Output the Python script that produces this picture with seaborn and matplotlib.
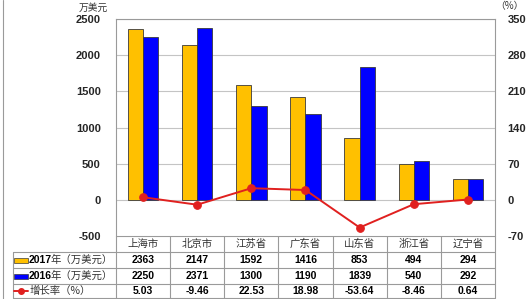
import numpy as np
import pandas as pd
import matplotlib
matplotlib.use("Agg")
import matplotlib.pyplot as plt
import seaborn as sns
from matplotlib.patches import Rectangle

# ---- data ----
categories = ["上海市", "北京市", "江苏省", "广东省", "山东省", "浙江省", "辽宁省"]
values_2017 = [2363, 2147, 1592, 1416, 853, 494, 294]
values_2016 = [2250, 2371, 1300, 1190, 1839, 540, 292]
growth = [5.03, -9.46, 22.53, 18.98, -53.64, -8.46, 0.64]
series_names = ["2017年（万美元）", "2016年（万美元）", "增长率（%）"]
left_ticks = [-500, 0, 500, 1000, 1500, 2000, 2500]
right_ticks = [-70, 0, 70, 140, 210, 280, 350]

YELLOW = "#FFC000"
BLUE = "#0000FF"
RED = "#E0201F"
GRID = "#c4c4c4"
FRAME = "#9a9a9a"

sns.set_style("white")
plt.rcParams["font.family"] = ["Liberation Sans", "Noto Sans CJK SC", "DejaVu Sans"]

W, H = 530, 299
fig = plt.figure(figsize=(W / 100, H / 100), dpi=100)
fig.patch.set_facecolor("white")

L, R, T, B = 116, 495, 19, 236
ax = fig.add_axes([L / W, (H - B) / H, (R - L) / W, (B - T) / H])

df = pd.DataFrame({
    "cat": categories * 2,
    "series": [series_names[0]] * len(categories) + [series_names[1]] * len(categories),
    "value": values_2017 + values_2016,
})
sns.barplot(data=df, x="cat", y="value", hue="series", palette=[YELLOW, BLUE],
            width=0.56, saturation=1, edgecolor="#3a3a3a", linewidth=0.6,
            legend=False, ax=ax, zorder=3)
ax.set_xlim(-0.5, len(categories) - 0.5)
ax.set_ylim(left_ticks[0], left_ticks[-1])
ax.set_yticks(left_ticks)
ax.set_yticklabels([str(v) for v in left_ticks])
ax.set_xticks([])
ax.set_xlabel("")
ax.set_ylabel("")
ax.yaxis.grid(True, color=GRID, lw=0.8)
ax.set_axisbelow(True)
ax.tick_params(axis="y", length=0, pad=11, labelsize=8)
for lab in ax.get_yticklabels():
    lab.set_fontweight("bold")
    lab.set_family("Liberation Sans")
for s in ["left", "top", "right"]:
    ax.spines[s].set_color(FRAME)
    ax.spines[s].set_linewidth(0.8)
ax.spines["bottom"].set_visible(False)

ax2 = ax.twinx()
gdf = pd.DataFrame({"x": np.arange(len(categories)), "g": growth})
sns.lineplot(data=gdf, x="x", y="g", ax=ax2, color=RED, lw=1.4, marker="o",
             markersize=5.5, markeredgecolor=RED, markerfacecolor=RED, zorder=5)
ax2.set_xlim(-0.5, len(categories) - 0.5)
ax2.set_ylim(right_ticks[0], right_ticks[-1])
ax2.set_yticks(right_ticks)
ax2.set_yticklabels([str(v) for v in right_ticks])
ax2.set_xlabel("")
ax2.set_ylabel("")
ax2.tick_params(axis="y", length=0, pad=9, labelsize=8)
for lab in ax2.get_yticklabels():
    lab.set_fontweight("bold")
    lab.set_family("Liberation Sans")
for s in ax2.spines.values():
    s.set_visible(False)

# ---- overlay for table and labels (pixel coords) ----
ov = fig.add_axes([0, 0, 1, 1], zorder=-1)
ov.set_xlim(0, W)
ov.set_ylim(H, 0)
ov.axis("off")

fig.canvas.draw()
def col_x(i):
    return ax.transData.transform((i, 0))[0]

ncol = len(categories)
edges = [col_x(i - 0.5) for i in range(ncol + 1)]
centers = [col_x(i) for i in range(ncol)]

rows_y = [252, 268, 284, 298]
lk = dict(color=FRAME, lw=0.8)
ov.plot([L, R], [B, B], **lk)
for y in rows_y:
    ov.plot([13, R], [y, y], **lk)
ov.plot([13, 13], [rows_y[0], rows_y[-1]], **lk)
for x in edges:
    ov.plot([x, x], [B, rows_y[-1]], **lk)

# outer left border
ov.plot([3, 3], [0, H], color=FRAME, lw=0.8)

cjk = ["Noto Sans CJK SC", "DejaVu Sans"]
num_font = ["Liberation Sans", "DejaVu Sans"]
for cx, c in zip(centers, categories):
    ov.text(cx, (B + rows_y[0]) / 2, c, ha="center", va="center",
            family=cjk, fontsize=7.5, color="#333333")

row_centers = [(rows_y[i] + rows_y[i + 1]) / 2 for i in range(3)]
row_vals = [values_2017, values_2016, [f"{g:.2f}" for g in growth]]
for yc, vals in zip(row_centers, row_vals):
    for cx, v in zip(centers, vals):
        ov.text(cx, yc, str(v), ha="center", va="center", family=num_font,
                fontweight="bold", fontsize=7.5, color="black")

# legend keys
for yc, col in zip(row_centers[:2], [YELLOW, BLUE]):
    ov.add_patch(Rectangle((14, yc - 2.5), 14, 5, facecolor=col,
                           edgecolor="#3a3a3a", lw=0.5))
ov.plot([14, 28], [row_centers[2], row_centers[2]], color=RED, lw=1.4)
ov.plot([21], [row_centers[2]], marker="o", color=RED, markersize=4)

# row labels
for yc, name in zip(row_centers[:2], series_names[:2]):
    t = ov.text(29, yc, name[:4], ha="left", va="center", family=num_font,
                fontweight="bold", fontsize=7.5, color="black")
    ov.annotate(name[4:], xy=(1, 0.5), xycoords=t, xytext=(-1.2, 0),
                textcoords="offset points", ha="left", va="center",
                family=cjk, fontsize=7.5, color="#333333")
ov.text(30, row_centers[2], series_names[2], ha="left", va="center",
        family=cjk, fontsize=7.5, color="#333333")

# axis unit labels
ov.text(93, 8, "万美元", ha="center", va="center", family=cjk, fontsize=7, color="#333333")
ov.text(509, 6, "（%）", ha="center", va="center", family=cjk, fontsize=7, color="#333333")

fig.savefig("out.png", dpi=100, facecolor="white")
